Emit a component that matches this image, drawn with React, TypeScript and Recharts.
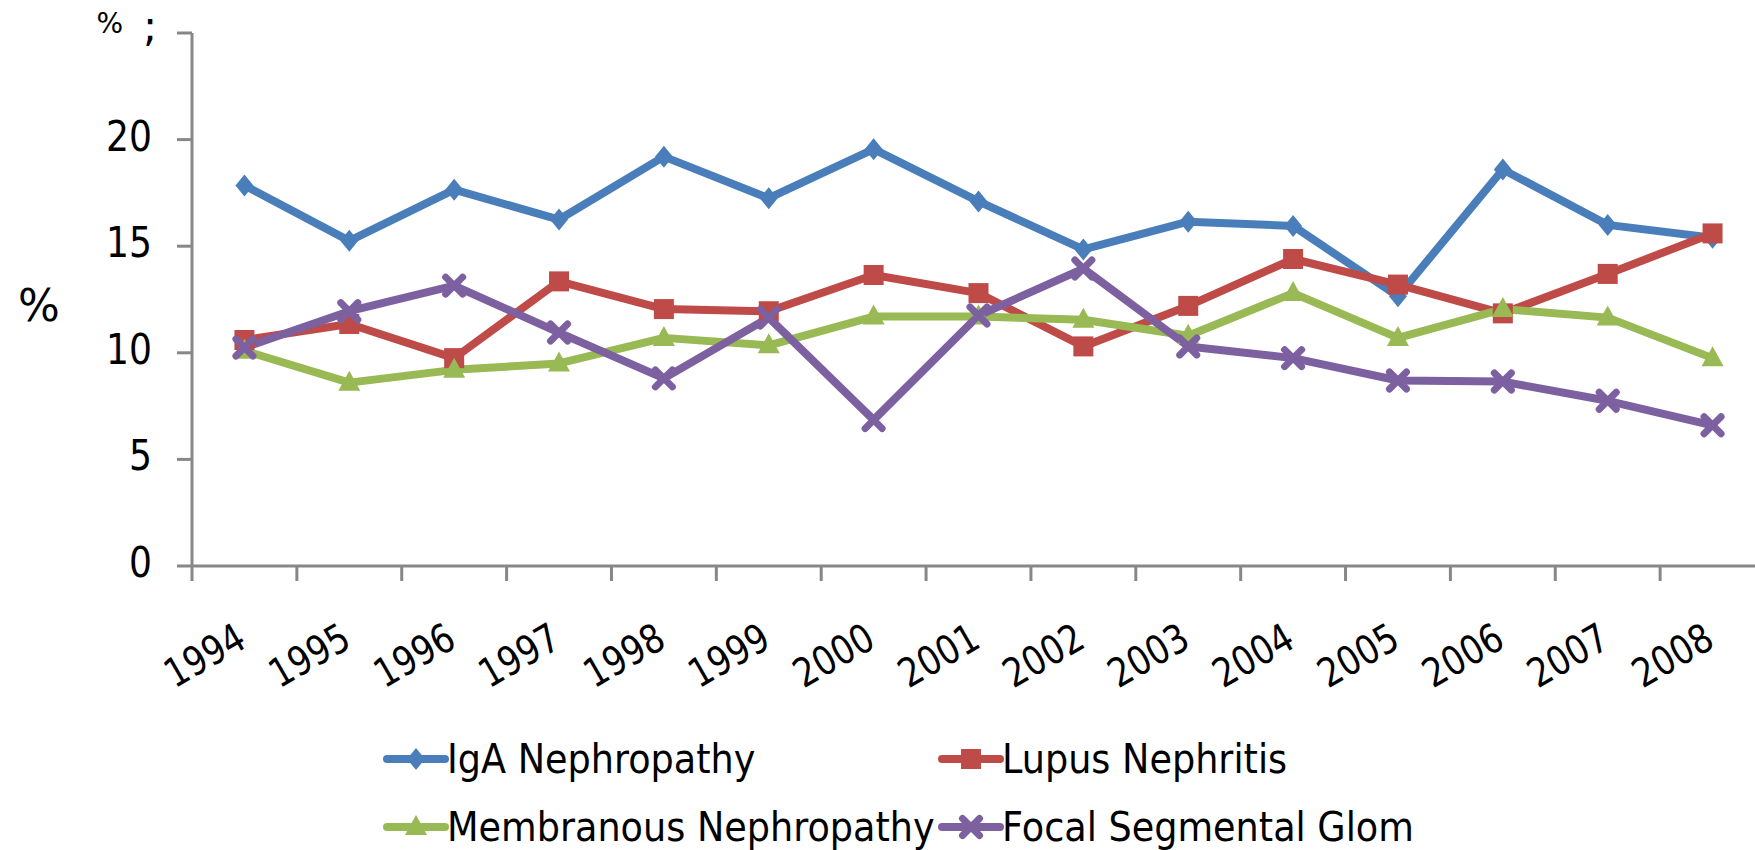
import React from "react";
import { LineChart, Line, XAxis, YAxis, Legend } from "recharts";

const years = ["1994", "1995", "1996", "1997", "1998", "1999", "2000", "2001", "2002", "2003", "2004", "2005", "2006", "2007", "2008"];
const igaNephropathy = [17.85, 15.25, 17.65, 16.25, 19.2, 17.25, 19.55, 17.1, 14.85, 16.15, 15.95, 12.65, 18.6, 16.0, 15.4];
const lupusNephritis = [10.6, 11.35, 9.75, 13.35, 12.05, 11.95, 13.65, 12.8, 10.3, 12.2, 14.4, 13.2, 11.85, 13.7, 15.6];
const membranousNephropathy = [10.1, 8.6, 9.2, 9.5, 10.7, 10.35, 11.7, 11.7, 11.55, 10.8, 12.8, 10.7, 12.05, 11.65, 9.75];
const focalSegmentalGlom = [10.25, 11.95, 13.15, 10.95, 8.8, 11.65, 6.85, 11.75, 13.95, 10.3, 9.75, 8.7, 8.65, 7.75, 6.6];
const seriesNames = ["IgA Nephropathy", "Lupus Nephritis", "Membranous Nephropathy", "Focal Segmental Glom"];
const yTicks = [0, 5, 10, 15, 20, 25];

const FONT = "'DejaVu Sans', Verdana, sans-serif";
const AXIS = "#878787";

// points sit in the middle of each category, tick marks on the boundaries (Excel style)
const data = years.map((year, i) => ({
  pos: i + 0.5,
  year,
  iga: igaNephropathy[i],
  lupus: lupusNephritis[i],
  memb: membranousNephropathy[i],
  fsg: focalSegmentalGlom[i],
}));
const boundaryTicks = years.map((_, i) => i).concat(years.length);
const centerTicks = years.map((_, i) => i + 0.5);

const series = [
  { key: "iga", name: seriesNames[0], color: "#4A7EBB", marker: "diamond" },
  { key: "lupus", name: seriesNames[1], color: "#BE4B48", marker: "square" },
  { key: "memb", name: seriesNames[2], color: "#98B954", marker: "triangle" },
  { key: "fsg", name: seriesNames[3], color: "#7D60A0", marker: "x" },
];

const Marker = ({ type, cx, cy, color }: any) => {
  if (type === "diamond")
    return <polygon points={`${cx},${cy - 11} ${cx + 9},${cy} ${cx},${cy + 11} ${cx - 9},${cy}`} fill={color} />;
  if (type === "square") return <rect x={cx - 10} y={cy - 10} width={20} height={20} fill={color} />;
  if (type === "triangle")
    return <polygon points={`${cx},${cy - 12} ${cx + 11},${cy + 8} ${cx - 11},${cy + 8}`} fill={color} />;
  return (
    <g stroke={color} strokeWidth={7} strokeLinecap="round">
      <line x1={cx - 8.5} y1={cy - 8.5} x2={cx + 8.5} y2={cy + 8.5} />
      <line x1={cx - 8.5} y1={cy + 8.5} x2={cx + 8.5} y2={cy - 8.5} />
    </g>
  );
};

const YTick = ({ x, y, payload }: any) => {
  if (payload.value === 25) {
    return (
      <g fontFamily={FONT} fill="#000">
        <text x={x - 29} y={y} textAnchor="end" fontSize={28}>%</text>
        <text x={x - 9} y={y + 8} textAnchor="start" fontSize={42}>;</text>
      </g>
    );
  }
  return (
    <text transform={`translate(${x},${y + 11}) scale(0.86,1)`} textAnchor="end" fontSize={42} fontFamily={FONT} fill="#000">
      {payload.value}
    </text>
  );
};

const XTick = ({ x, y, payload }: any) => (
  <text
    transform={`translate(${x + 4},${y + 79}) rotate(-30) scale(0.84,1)`}
    textAnchor="end"
    fontSize={40}
    fontFamily={FONT}
    fill="#000"
  >
    {years[Math.floor(payload.value)]}
  </text>
);

const legendCols = [387, 942];
const legendRows = [59, 127];

const LegendContent = () => (
  <svg width={1755} height={150} style={{ display: "block" }}>
    {series.map((s, i) => {
      const x = legendCols[i % 2];
      const y = legendRows[Math.floor(i / 2)];
      return (
        <g key={s.key}>
          <line x1={x} y1={y} x2={x + 58} y2={y} stroke={s.color} strokeWidth={8} strokeLinecap="round" />
          <Marker type={s.marker} cx={x + 29} cy={y} color={s.color} />
          <text transform={`translate(${x + 60},${y + 14}) scale(0.915,1)`} fontSize={40} fontFamily={FONT} fill="#000">
            {s.name}
          </text>
        </g>
      );
    })}
  </svg>
);

export default function App() {
  return (
    <div style={{ position: "absolute", left: 0, top: 0, width: 1755, height: 850, overflow: "hidden", background: "#fff" }}>
      <LineChart width={1780} height={850} data={data} margin={{ top: 33, right: 15, bottom: 0, left: 0 }}>
        <XAxis
          xAxisId="b"
          type="number"
          dataKey="pos"
          domain={[0, years.length]}
          ticks={centerTicks}
          interval={0}
          height={283}
          tickSize={0}
          tickMargin={0}
          axisLine={false}
          tickLine={false}
          tick={XTick}
        />
        <XAxis
          xAxisId="a"
          type="number"
          dataKey="pos"
          domain={[0, years.length]}
          ticks={boundaryTicks}
          interval={0}
          height={1}
          tickSize={15}
          tick={() => <g />}
          axisLine={{ stroke: AXIS, strokeWidth: 3 }}
          tickLine={{ stroke: AXIS, strokeWidth: 3 }}
        />
        <YAxis
          type="number"
          domain={[0, 25]}
          ticks={yTicks}
          interval={0}
          width={192}
          tickSize={15}
          tickMargin={25}
          tick={YTick}
          axisLine={{ stroke: AXIS, strokeWidth: 3 }}
          tickLine={{ stroke: AXIS, strokeWidth: 3 }}
          label={{ value: "%", position: "insideLeft", offset: 18, fontSize: 44, fontFamily: FONT, fill: "#000", dy: 6 }}
        />
        <Legend
          layout="horizontal"
          verticalAlign="middle"
          align="center"
          content={LegendContent}
          wrapperStyle={{ left: 0, top: 700, width: 1755, height: 150 }}
        />
        {series.map((s) => (
          <Line
            key={s.key}
            xAxisId="b"
            dataKey={s.key}
            name={s.name}
            stroke={s.color}
            strokeWidth={8}
            strokeLinejoin="round"
            isAnimationActive={false}
            activeDot={false}
            dot={(p: any) => <Marker key={`${s.key}-${p.index}`} type={s.marker} cx={p.cx} cy={p.cy} color={s.color} />}
          />
        ))}
      </LineChart>
    </div>
  );
}
